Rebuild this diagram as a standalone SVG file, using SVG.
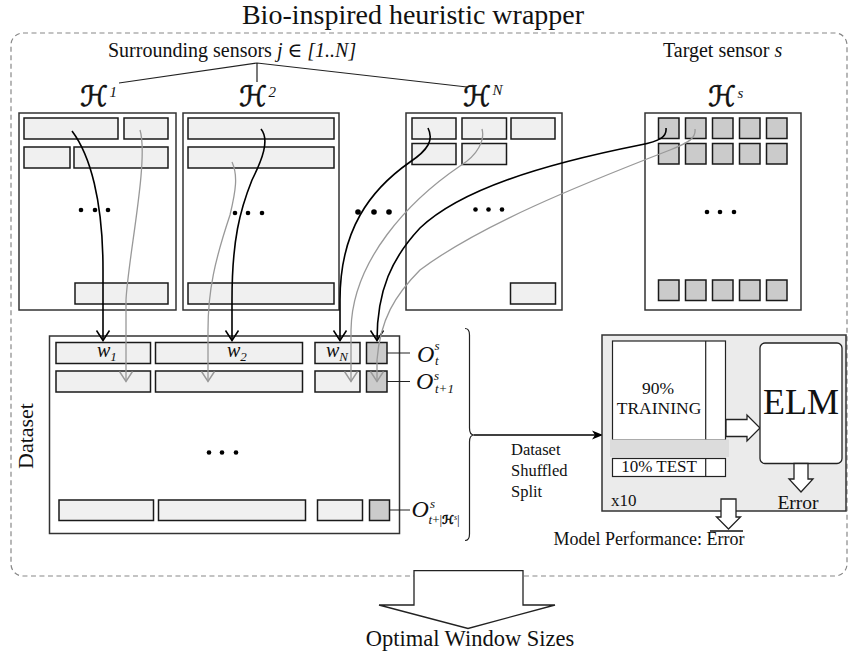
<svg xmlns="http://www.w3.org/2000/svg" width="849" height="655" viewBox="0 0 849 655">
<style>
.t{font-family:"Liberation Serif","DejaVu Serif",serif;fill:#111}
.it{font-style:italic}
.cal{font-family:"DejaVu Serif","DejaVu Sans",serif;font-style:italic;fill:#111;stroke:#111;stroke-width:0.7}
.panel{fill:#fff;stroke:#333;stroke-width:1.5}
.cell{fill:#f0f0f0;stroke:#1a1a1a;stroke-width:1.5}
.sq{fill:#cbcbcb;stroke:#1a1a1a;stroke-width:1.5}
.blk{fill:none;stroke:#000;stroke-width:1.6;marker-end:url(#ab)}
.gry{fill:none;stroke:#999;stroke-width:1.3;marker-end:url(#ag)}
.thin{fill:none;stroke:#222;stroke-width:1.2}
.hol{fill:#fff;stroke:#222;stroke-width:1.3}
</style>
<defs>
<marker id="ab" markerUnits="userSpaceOnUse" markerWidth="16" markerHeight="16" viewBox="-14 -8 16 16" refX="0" refY="0" orient="auto"><path d="M-10,-6.5 L0,0 L-10,6.5" fill="none" stroke="#000" stroke-width="1.5"/></marker>
<marker id="ag" markerUnits="userSpaceOnUse" markerWidth="16" markerHeight="16" viewBox="-14 -8 16 16" refX="0" refY="0" orient="auto"><path d="M-10,-6.5 L0,0 L-10,6.5" fill="none" stroke="#999" stroke-width="1.4"/></marker>
<marker id="ad" markerUnits="userSpaceOnUse" markerWidth="14" markerHeight="10" viewBox="-12 -5 14 10" refX="0" refY="0" orient="auto"><path d="M-11,-4.5 L0,0 L-11,4.5 L-8,0 z" fill="#000"/></marker>
</defs>

<text class="t" x="413" y="24" font-size="28" text-anchor="middle">Bio-inspired heuristic wrapper</text>
<rect id="wrapper" x="11" y="33" width="836" height="543" rx="12" fill="none" stroke="#888" stroke-width="1.2" stroke-dasharray="5 3.5"/>

<text class="t" x="108" y="57" font-size="20">Surrounding sensors <tspan class="it">j</tspan> ∈ <tspan class="it">[1..N]</tspan></text>
<text class="t" x="663" y="57" font-size="20">Target sensor <tspan class="it">s</tspan></text>
<path class="thin" d="M119,83 L257,63 L467,87 M257,63 L257,82"/>

<g id="H1">
<text class="cal" x="80" y="106" font-size="28">ℋ</text><text class="t it" x="109.5" y="97" font-size="15">1</text>
<rect class="panel" x="19" y="113" width="157" height="197"/>
<rect class="cell" x="24" y="118" width="94" height="21"/>
<rect class="cell" x="124" y="118" width="44" height="21"/>
<rect class="cell" x="24" y="147" width="46" height="21"/>
<rect class="cell" x="74" y="147" width="94" height="21"/>
<rect class="cell" x="75" y="283" width="93" height="21"/>
<circle cx="81" cy="210" r="2.3"/><circle cx="95" cy="210" r="2.3"/><circle cx="108" cy="210" r="2.3"/>
</g>
<g id="H2">
<text class="cal" x="239" y="106" font-size="28">ℋ</text><text class="t it" x="268.5" y="97" font-size="15">2</text>
<rect class="panel" x="183" y="113" width="156" height="197"/>
<rect class="cell" x="188" y="118" width="146" height="21"/>
<rect class="cell" x="188" y="147" width="146" height="21"/>
<rect class="cell" x="188" y="283" width="146" height="21"/>
<circle cx="235" cy="213" r="2.3"/><circle cx="248" cy="213" r="2.3"/><circle cx="262" cy="213" r="2.3"/>
</g>
<g id="gap-dots">
<circle cx="358" cy="212" r="2.8"/><circle cx="374" cy="212" r="2.8"/><circle cx="389" cy="212" r="2.8"/>
</g>
<g id="HN">
<text class="cal" x="463" y="106" font-size="28">ℋ</text><text class="t it" x="492.5" y="95" font-size="15">N</text>
<rect class="panel" x="406" y="113" width="156" height="197"/>
<rect class="cell" x="412" y="118" width="44" height="21"/>
<rect class="cell" x="462" y="118" width="44.5" height="21"/>
<rect class="cell" x="511" y="118" width="44" height="21"/>
<rect class="cell" x="412" y="143.5" width="44" height="21"/>
<rect class="cell" x="462" y="143.5" width="44.5" height="21"/>
<rect class="cell" x="510.5" y="283" width="45" height="21"/>
<circle cx="475.5" cy="209.5" r="2.3"/><circle cx="488.5" cy="209.5" r="2.3"/><circle cx="502" cy="209.5" r="2.3"/>
</g>
<g id="Hs">
<text class="cal" x="708" y="106" font-size="28">ℋ</text><text class="t it" x="737.5" y="98" font-size="15">s</text>
<rect class="panel" x="645" y="113" width="156" height="197"/>
<rect class="sq" x="658.5" y="118" width="20.5" height="20.5"/>
<rect class="sq" x="685.5" y="118" width="20.5" height="20.5"/>
<rect class="sq" x="712.5" y="118" width="20.5" height="20.5"/>
<rect class="sq" x="739.5" y="118" width="20.5" height="20.5"/>
<rect class="sq" x="766.5" y="118" width="20.5" height="20.5"/>
<rect class="sq" x="658.5" y="143.5" width="20.5" height="20.5"/>
<rect class="sq" x="685.5" y="143.5" width="20.5" height="20.5"/>
<rect class="sq" x="712.5" y="143.5" width="20.5" height="20.5"/>
<rect class="sq" x="739.5" y="143.5" width="20.5" height="20.5"/>
<rect class="sq" x="766.5" y="143.5" width="20.5" height="20.5"/>
<rect class="sq" x="658.5" y="280" width="20.5" height="20.5"/>
<rect class="sq" x="685.5" y="280" width="20.5" height="20.5"/>
<rect class="sq" x="712.5" y="280" width="20.5" height="20.5"/>
<rect class="sq" x="739.5" y="280" width="20.5" height="20.5"/>
<rect class="sq" x="766.5" y="280" width="20.5" height="20.5"/>
<circle cx="707" cy="212" r="2.3"/><circle cx="720" cy="212" r="2.3"/><circle cx="734" cy="212" r="2.3"/>
</g>

<g id="dataset">
<text class="t" transform="translate(33,436) rotate(-90)" font-size="22" text-anchor="middle">Dataset</text>
<rect class="panel" x="49.5" y="336" width="350" height="197.5"/>
<rect class="cell" x="56" y="342.5" width="94.5" height="21"/>
<rect class="cell" x="155.5" y="342.5" width="147" height="21"/>
<rect class="cell" x="315" y="342.5" width="45" height="21"/>
<rect class="sq" x="366.5" y="342.5" width="20.5" height="21"/>
<rect class="cell" x="56" y="371" width="94.5" height="21"/>
<rect class="cell" x="155.5" y="371" width="147" height="21"/>
<rect class="cell" x="315" y="371" width="45" height="21"/>
<rect class="sq" x="366.5" y="371" width="20.5" height="21"/>
<rect class="cell" x="59" y="500" width="94.5" height="20.5"/>
<rect class="cell" x="158.5" y="500" width="147" height="20.5"/>
<rect class="cell" x="317.5" y="500" width="45" height="20.5"/>
<rect class="sq" x="369.5" y="500" width="20" height="20.5"/>
<circle cx="209" cy="452.5" r="2.3"/><circle cx="222" cy="452.5" r="2.3"/><circle cx="236" cy="452.5" r="2.3"/>
<text class="t it" x="97" y="357" font-size="20">w<tspan font-size="13" dy="4">1</tspan></text>
<text class="t it" x="227" y="357" font-size="20">w<tspan font-size="13" dy="4">2</tspan></text>
<text class="t it" x="326" y="357" font-size="20">w<tspan font-size="13" dy="4">N</tspan></text>
<path class="thin" d="M387,353 L410,353 M387,381.5 L410,381.5 M389.5,510 L410,510"/>
<text class="t it" x="417" y="361.5" font-size="24">O</text>
<text class="t it" x="434.5" y="350" font-size="13">s</text>
<text class="t it" x="435" y="364.5" font-size="13">t</text>
<text class="t it" x="416" y="388.5" font-size="24">O</text>
<text class="t it" x="434" y="379.5" font-size="13">s</text>
<text class="t it" x="435" y="393" font-size="13">t+1</text>
<text class="t it" x="411.5" y="517" font-size="24">O</text>
<text class="t it" x="430" y="508" font-size="13">s</text>
<text class="t it" x="428.5" y="523.5" font-size="13">t<tspan font-style="normal">+|</tspan><tspan class="cal" font-size="12" stroke-width="0.3">ℋ</tspan><tspan font-size="8" dy="-4">s</tspan><tspan font-style="normal" dy="4">|</tspan></text>
</g>

<g id="connectors">
<path class="blk" d="M72,131 C90,155 103,200 103,270 L103,340.5"/>
<path class="gry" d="M140,130 C149,160 128,258 126,300 L126,381.5"/>
<path class="blk" d="M261,129 C270,140 262,160 252,180 C240,210 232,240 232,300 L232,340.5"/>
<path class="gry" d="M232,162 C238,175 236,190 230,215 C215,260 208,290 208,330 L208,381.5"/>
<path class="blk" d="M428,128 C434,140 428,150 410,162 C370,190 340,230 340,300 L340,340.5"/>
<path class="gry" d="M482,129 C485,140 478,155 460,166 C410,200 352,260 351,330 L351,381.5"/>
<path class="blk" d="M666,128 C667,137 660,141 640,145 C540,165 460,190 420,228 C392,258 377,290 377,340.5"/>
<path class="gry" d="M695,129 C696,138 690,142 670,150 C580,185 480,225 420,270 C395,295 380,320 377,360 L377,381.5"/>
<path class="thin" d="M465,328.5 Q469.5,328.5 469.5,335 L469.5,428 Q469.5,435 474,435 Q469.5,435 469.5,442 L469.5,534 Q469.5,540.5 465,540.5" stroke-width="1.5"/>
<path d="M474,435 L603,435" fill="none" stroke="#000" stroke-width="1.5" marker-end="url(#ad)"/>
</g>
<text class="t" x="511" y="455" font-size="16.5">Dataset</text>
<text class="t" x="511" y="476" font-size="16.5">Shuffled</text>
<text class="t" x="511" y="497" font-size="16.5">Split</text>

<g id="cv">
<rect x="602" y="335" width="244" height="176" fill="#ebebeb" stroke="#333" stroke-width="1.5"/>
<rect x="612.5" y="341" width="113" height="99" fill="#fff" stroke="#222" stroke-width="1.2"/>
<line x1="705.7" y1="341" x2="705.7" y2="440" stroke="#222" stroke-width="1.2"/>
<rect x="610" y="439.5" width="119" height="17.5" fill="#dcdcdc"/>
<text class="t" x="658" y="394" font-size="17.5" text-anchor="middle">90%</text>
<text class="t" x="659" y="414" font-size="17.5" text-anchor="middle">TRAINING</text>
<rect x="612.5" y="458.5" width="113" height="18" fill="#fff" stroke="#222" stroke-width="1.2"/>
<line x1="705.7" y1="458.5" x2="705.7" y2="476.5" stroke="#222" stroke-width="1.2"/>
<text class="t" x="659" y="472" font-size="17" text-anchor="middle">10% TEST</text>
<polygon class="hol" points="726,419.5 747,419.5 747,415 760,428 747,441 747,436.5 726,436.5"/>
<rect x="760" y="343" width="82" height="120.5" rx="5" fill="#fff" stroke="#222" stroke-width="1.3"/>
<text class="t" x="801" y="414" font-size="36" text-anchor="middle">ELM</text>
<polygon class="hol" points="794,463.5 794,479 789,479 801,492 813,479 808,479 808,463.5"/>
<text class="t" x="798" y="508.5" font-size="19.5" text-anchor="middle">Error</text>
<text class="t" x="611" y="506" font-size="17">x10</text>
</g>
<polygon class="hol" points="721,499 721,517 716.5,517 728.5,529 740.5,517 736,517 736,499"/>
<line x1="710" y1="531" x2="743" y2="531" stroke="#111" stroke-width="1.3"/>
<text class="t" x="744.5" y="544.5" font-size="18" text-anchor="end">Model Performance: Error</text>

<polygon class="hol" id="out-arrow" points="414,570.7 523,570.7 523,605 555,605 468,628.5 379,605 414,605"/>
<text class="t" x="470" y="646" font-size="22.5" text-anchor="middle">Optimal Window Sizes</text>
</svg>
